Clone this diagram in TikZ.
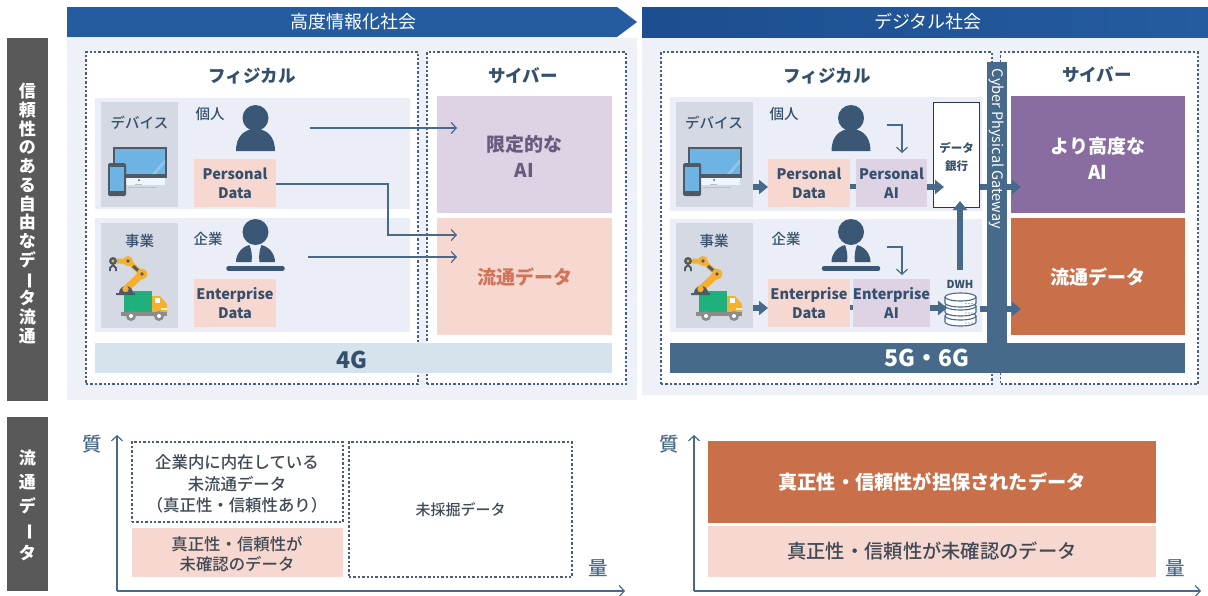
\documentclass[tikz,border=0pt]{standalone}
\usepackage{fontspec}
\setmainfont{Noto Sans CJK JP}
\newfontfamily\med{Noto Sans CJK JP Medium}
\usetikzlibrary{arrows.meta,calc}
\definecolor{bannerblue}{HTML}{245C9F}
\definecolor{bannerdeep}{HTML}{1D4E8F}
\definecolor{panelbg}{HTML}{EEF1F7}
\definecolor{rowbg}{HTML}{EBEEF6}
\definecolor{colbg}{HTML}{D5D9E4}
\definecolor{pinkbox}{HTML}{F7D8D1}
\definecolor{lilac}{HTML}{DDD3E4}
\definecolor{purpledk}{HTML}{8A6DA0}
\definecolor{orangedk}{HTML}{C96F4A}
\definecolor{steel}{HTML}{47698A}
\definecolor{navy}{HTML}{3A5876}
\definecolor{ink}{HTML}{35506C}
\definecolor{pale}{HTML}{D6E3EC}
\definecolor{barbg}{HTML}{595959}
\definecolor{dashc}{HTML}{4A6078}
\definecolor{liltext}{HTML}{6B5A80}
\definecolor{orangetext}{HTML}{D0745A}
\definecolor{graytext}{HTML}{3F4A55}
\definecolor{armyellow}{HTML}{F5B12E}
\definecolor{truckgreen}{HTML}{1FB07C}
\definecolor{framedk}{HTML}{505A66}
\definecolor{screenblue}{HTML}{6DB3E3}
\newcommand{\fs}[2]{\fontsize{#1}{#2}\selectfont}
\newcommand{\bx}[6]{\node[rect,#6,minimum width={(#4-#2)*1pt},minimum height={(#5-#3)*1pt}] (#1) at ({(#2+#4)/2},{(#3+#5)/2})}
\tikzset{
  x=1pt,y=-1pt,
  rect/.style={draw=none,inner sep=0pt,outer sep=0pt,rectangle,align=center},
  dashbox/.style={draw=dashc,line width=1.2pt,dash pattern=on 2.4pt off 2pt},
  lbl/.style={inner sep=0pt,outer sep=0pt,align=center,text=ink},
  headfont/.style={font=\fs{17.5}{20}\bfseries,text=ink},
  bannerfont/.style={font=\fs{18}{20},text=white},
  smalllbl/.style={font=\fs{14.5}{18}\med,text=ink},
  datatext/.style={font=\fs{14.5}{19}\bfseries,text=ink,execute at begin node={\rule{0pt}{13pt}}},
  aitext/.style={font=\fs{19}{26}\bfseries},
  bodytext/.style={font=\fs{16.4}{21.5}\med,text=graytext},
  axislbl/.style={font=\fs{19.5}{21}\med,text=steel},
  thinarrow/.style={draw=steel,line width=1.2pt,-{Straight Barb[length=5pt,width=11pt,line width=1.2pt]}},
  fatarrow/.style={draw=steel,line width=6pt,-{Triangle[length=9pt,width=14pt]}},
  axisarrow/.style={draw=steel,line width=1.2pt,-{Straight Barb[length=5pt,width=11pt,line width=1.2pt]}},
  devicepic/.pic={
    \fill[framedk] (5,0) rectangle (59,31);
    \fill[screenblue] (7,2) rectangle (57,27);
    \fill[white,opacity=.25] (44,27) -- (57,12) -- (57,16) -- (48,27) -- cycle;
    \fill[white!88!screenblue] (15,31) rectangle (57,38);
    \fill[framedk] (31,33) circle (1pt);
    \draw[steel!40,line width=.8pt] (27,37.5) -- (34,37.5) (20,40) -- (48,40);
    \fill[framedk,rounded corners=1.5pt] (0,16) rectangle (18,49);
    \fill[screenblue] (2,20) rectangle (16,44);
    \fill[black!70] (9,46.5) circle (1.1pt);
  },
  robotpic/.pic={
    \fill[truckgreen] (16,30) rectangle (44,52);
    \fill[armyellow] (44,35) -- (52,35) -- (59,43) -- (59,52) -- (44,52) -- cycle;
    \fill[white] (47,37) rectangle (52,42);
    \fill[white!80!armyellow] (53,47) rectangle (59,49);
    \fill[black!45] (13,51) rectangle (59,55);
    \foreach \wx in {23,51}{\fill[black!45] (\wx,55) circle (5pt);\fill[white] (\wx,55) circle (2pt);}
    \draw[armyellow,line width=7pt,line cap=round] (19,27) -- (34,13);
    \draw[armyellow,line width=5pt] (34,13) -- (20,0) -- (9,0);
    \draw[framedk,line width=3pt] (25,5) -- (34,13);
    \fill[framedk] (8,34) -- (27,34) -- (27,32) -- (25,32) arc (0:180:7pt) -- (10,32) -- (8,32) -- cycle;
    \fill[armyellow] (17.5,28) circle (3.2pt);
    \fill[armyellow] (34,13) circle (5.5pt);
    \fill[framedk] (34,13) circle (1.8pt);
    \fill[armyellow] (20,0) circle (5pt);
    \fill[framedk] (20,0) circle (1.8pt);
    \fill[framedk] (5,0) circle (4pt);
    \fill[armyellow] (5,0) circle (1.6pt);
    \draw[framedk,line width=1.8pt] (2,10) -- (2,7) -- (5,4) -- (8,7) -- (8,10);
  },
  personpic/.pic={
    \fill[navy] (0,0) circle (13pt);
    \fill[navy] (-19.5,33) .. controls (-19.5,18) and (-11,11) .. (0,11) .. controls (11,11) and (19.5,18) .. (19.5,33) -- cycle;
  },
  bizpic/.pic={
    \fill[navy] (0,0) circle (13pt);
    \fill[navy] (-19.5,30) .. controls (-19.5,22) and (-14,15) .. (-6,13) .. controls (-4,18) and (-3,24) .. (-4,30) -- cycle;
    \fill[navy] (19.5,30) .. controls (19.5,22) and (14,15) .. (6,13) .. controls (4,18) and (3,24) .. (4,30) -- cycle;
    \draw[navy,line width=4.5pt,line cap=round] (-27,36.5) -- (27,36.5);
  },
}
\begin{document}
\begin{tikzpicture}
\useasboundingbox (0,0) rectangle (1208,595);
\fill[white] (0,0) rectangle (1208,595);

% side bars
\bx{sideA}{7}{38}{48}{401}{fill=barbg}{};
\node[lbl,text=white,font={\fs{17}{18.7}\bfseries}] (sideAt) at (27.5,213.5) {信\\頼\\性\\の\\あ\\る\\自\\由\\な\\デ\\\rotatebox[origin=c]{-90}{ー}\\タ\\流\\通};
\bx{sideB}{7}{417}{48}{591}{fill=barbg}{};
\node[lbl,text=white,font={\fs{17}{23.7}\bfseries}] (sideBt) at (27.5,505.5) {流\\通\\デ\\\rotatebox[origin=c]{-90}{ー}\\タ};

% panels
\bx{panelL}{67}{38}{637}{400}{fill=panelbg}{};
\bx{panelR}{642}{38}{1208}{395}{fill=panelbg}{};
\fill[bannerblue] (67,7) -- (617,7) -- (637,22) -- (617,37) -- (67,37) -- cycle;
\node[lbl,bannerfont] (bannerLt) at (353,22) {高度情報化社会};
\shade[left color=bannerdeep,right color=bannerblue] (642,7) rectangle (1208,37);
\node[lbl,bannerfont] (bannerRt) at (928,22) {デジタル社会};

% ---------- left panel
\bx{physL}{86}{52}{418}{384}{fill=white,dashbox}{};
\bx{cybL}{427}{52}{626}{384}{fill=white,dashbox}{};
\node[lbl,headfont] (physLt) at (252,76) {フィジカル};
\node[lbl,headfont] (cybLt) at (523,76) {サイバー};
\bx{rowL1}{95}{98}{410}{209}{fill=rowbg}{};
\bx{rowL2}{95}{218}{410}{332}{fill=rowbg}{};
\bx{colL1}{101}{102}{178}{207}{fill=colbg}{};
\bx{colL2}{101}{223}{178}{328}{fill=colbg}{};
\node[lbl,smalllbl] (devL) at (139.5,123) {デバイス};
\node[lbl,smalllbl] (bizL) at (139.5,241) {事業};
\pic at (108,147) {devicepic};
\pic at (108,261) {robotpic};
\node[lbl,smalllbl] (indL) at (210,114) {個人};
\node[lbl,smalllbl] (entL) at (208,239) {企業};
\pic at (255.5,118) {personpic};
\pic at (255.5,232) {bizpic};
\bx{pdL}{194}{159}{276}{207}{fill=pinkbox,datatext}{Personal\\Data};
\bx{edL}{194}{279}{276}{327}{fill=pinkbox,datatext}{Enterprise\\Data};
\bx{aiL}{437}{96}{612}{213}{fill=lilac}{};
\node[lbl,aitext,text=liltext] (aiLt) at (524.5,156) {限定的な\\AI};
\bx{flowL}{437}{218}{612}{335}{fill=pinkbox}{};
\node[lbl,aitext,text=orangetext] (flowLt) at (524.5,277) {流通データ};
\bx{netL}{95}{343}{612}{373}{fill=pale}{};
\node[lbl,font=\fs{23}{25}\bfseries] (netLt) at (352,360) {4G};
\coordinate (a1s) at (310,128);
\coordinate (a1e) at (457,128);
\coordinate (a2e) at (457,235);
\coordinate (a2m) at (388,184);
\coordinate (a3s) at (308,257);
\coordinate (a3e) at (457,257);
\draw[thinarrow] (a1s) -- (a1e);
\draw[thinarrow] (pdL.east |- a2m) -- (a2m) -- (a2m |- a2e) -- (a2e);
\draw[thinarrow] (a3s) -- (a3e);

% ---------- right panel
\bx{physR}{661}{52}{992}{384}{fill=white,dashbox}{};
\bx{cybR}{1000.5}{52}{1198}{384}{fill=white,dashbox}{};
\node[lbl,headfont] (physRt) at (827,76) {フィジカル};
\node[lbl,headfont] (cybRt) at (1097,75) {サイバー};
\bx{rowR1}{670}{97}{982}{211}{fill=rowbg}{};
\bx{rowR2}{670}{219}{982}{332}{fill=rowbg}{};
\bx{colR1}{675.5}{102}{753}{207}{fill=colbg}{};
\bx{colR2}{675.5}{223}{753}{328}{fill=colbg}{};
\node[lbl,smalllbl] (devR) at (714,123) {デバイス};
\node[lbl,smalllbl] (bizR) at (714,241) {事業};
\pic at (683,147) {devicepic};
\pic at (683,261) {robotpic};
\node[lbl,smalllbl] (indR) at (784,114) {個人};
\node[lbl,smalllbl] (entR) at (786,239) {企業};
\pic at (851,118) {personpic};
\pic at (851,232) {bizpic};
\bx{pdR}{768}{159}{850}{207}{fill=pinkbox,datatext}{Personal\\Data};
\bx{paR}{856}{159}{927}{207}{fill=lilac,datatext}{Personal\\AI};
\bx{edR}{768}{279}{850}{327}{fill=pinkbox,datatext}{Enterprise\\Data};
\bx{eaR}{856}{279}{927}{327}{fill=lilac,datatext}{Enterprise\\AI};
\bx{bank}{933.5}{102}{979.5}{207}{fill=white,draw=black!45!steel,line width=.8pt}{};
\node[lbl,font={\fs{11.5}{18}\bfseries}] (bankt) at (956.5,157) {データ\\銀行};
\node[lbl,font={\fs{11}{13}\bfseries}] (dwht) at (960,284) {DWH};
\foreach \cy in {316,306,297}{
  \draw[steel,fill=white,line width=1.1pt] (945,\cy) -- (945,\cy+6) arc[start angle=180,end angle=360,x radius=15.5pt,y radius=4pt] -- (976,\cy);
  \draw[steel,fill=white,line width=1.1pt] (960.5,\cy) ellipse[x radius=15.5pt,y radius=4pt];
}
\foreach \dy in {303.5,313,323}{
  \fill[steel] (966,\dy) circle (.6pt) (969,\dy) circle (.6pt) (972,\dy) circle (.6pt);
}
\bx{aiR}{1011}{96}{1185}{213}{fill=purpledk}{};
\node[lbl,aitext,text=white] (aiRt) at (1098,158) {より高度な\\AI};
\bx{flowR}{1011}{218}{1185}{335}{fill=orangedk}{};
\node[lbl,aitext,text=white] (flowRt) at (1098,277) {流通データ};
% gateway and network
\bx{gate}{987}{62}{1007}{350}{fill=steel}{};
\bx{netR}{670}{343}{1185}{373}{fill=steel}{};
\node[lbl,text=white,font=\fs{23}{25}\bfseries] (netRt) at (927,358) {5G・6G};
% arrows
\coordinate (u1) at (753,187);
\coordinate (u2) at (753,308);
\draw[fatarrow] (u1) -- (pdR.west |- u1);
\draw[fatarrow] (u2) -- (edR.west |- u2);
\draw[line width=5.5pt,steel] (pdR.east |- 0,186.5) -- (paR.west |- 0,186.5);
\draw[line width=5.5pt,steel] (edR.east |- 0,307.5) -- (eaR.west |- 0,307.5);
\draw[fatarrow] (paR.east |- u1) -- ++(17,0);
\draw[fatarrow] (eaR.east |- u2) -- ++(17,0);
\draw[fatarrow] (960,270) -- (960,201);
\draw[fatarrow] (bank.east |- u1) -- (aiR.west |- u1) -- ++(10,0);
\draw[fatarrow] (980,309) -- (aiR.west |- 0,309) -- ++(10,0);
\node[lbl,text=white,font=\fs{14.5}{16},rotate=-90] (gatet) at (997,149) {Cyber Physical Gateway};
\coordinate (s1) at (887,125); \coordinate (s1m) at (902,125); \coordinate (s1e) at (902,153);
\coordinate (s2) at (887,247); \coordinate (s2m) at (902,247); \coordinate (s2e) at (902,275);
\draw[thinarrow] (s1) -- (s1m) -- (s1e);
\draw[thinarrow] (s2) -- (s2m) -- (s2e);

% ---------- lower left
\bx{q1}{132}{442}{343}{522}{dashbox}{};
\node[lbl,bodytext] (q1t) at (237,484) {企業内に内在している\\未流通データ\\（真正性・信頼性あり）};
\bx{q2}{349}{442}{572}{577}{dashbox,bodytext,font=\fs{15}{18}\med}{未採掘データ};
\bx{q3}{132}{528}{343}{577}{fill=pinkbox}{};
\node[lbl,bodytext,font=\fs{16.4}{20}\med] (q3t) at (237,554.5) {真正性・信頼性が\\未確認のデータ};
\coordinate (oL) at (117,591);
\draw[axisarrow] (oL) -- (117,435);
\draw[axisarrow] (oL) -- (625,591);
\node[lbl,axislbl] (qualL) at (92,444) {質};
\node[lbl,axislbl] (quanL) at (598,568) {量};

% ---------- lower right
\bx{hi}{708}{441}{1156}{523}{fill=orangedk}{\fs{19.2}{22}\bfseries\color{white}真正性・信頼性が担保されたデータ};
\bx{lo}{708}{526}{1156}{577}{fill=pinkbox}{\fs{19.3}{22}\med\color{graytext}真正性・信頼性が未確認のデータ};
\coordinate (oR) at (694,591);
\draw[axisarrow] (oR) -- (694,435);
\draw[axisarrow] (oR) -- (1201,591);
\node[lbl,axislbl] (qualR) at (669,444) {質};
\node[lbl,axislbl] (quanR) at (1175,568) {量};
\end{tikzpicture}
\end{document}
